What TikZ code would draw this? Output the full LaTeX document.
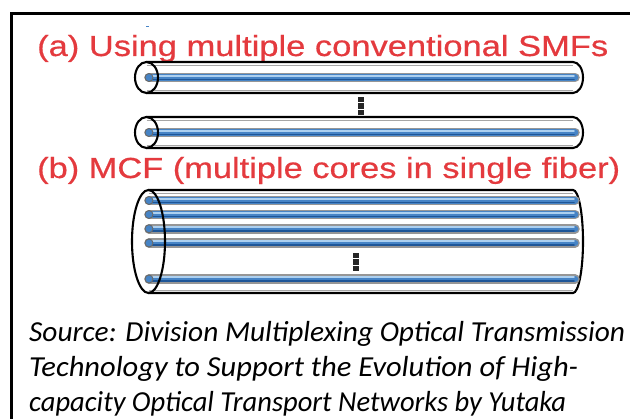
\documentclass[tikz,border=0pt]{standalone}
\usepackage{fontspec}
\setmainfont{Liberation Sans}
\newfontfamily\titlefont[FakeBold=0.5]{Liberation Sans}
\newfontfamily\srcfont{Carlito}
\usepackage{graphicx}

\definecolor{titlered}{RGB}{228,58,62}
\definecolor{coreblue}{RGB}{70,132,198}
\definecolor{corelight}{RGB}{172,208,240}
\definecolor{coredark}{RGB}{30,86,152}
\definecolor{coreedge}{RGB}{150,150,150}

\tikzset{
  tube/.style={draw=black, line width=2.1pt},
  tubeinner/.style={draw=black!35, line width=0.9pt},
  frameline/.style={draw=black, line width=2.5pt},
  titletext/.style={anchor=base west, inner sep=0pt, text=titlered},
  sourcetext/.style={anchor=base west, inner sep=0pt, text=black},
  gapdot/.style={fill=black!85}
}

% one light-guiding core: grey sheath, blue body with a highlight and a shadow,
% and a small round face at its left end
\newcommand\fibercore[3]{%
  \draw[coreedge, line width=9.5pt, line cap=round] (#1,#3) -- (#2,#3);
  \draw[coreblue, line width=6.5pt, line cap=round] (#1,#3) -- (#2,#3);
  \draw[corelight, line width=1.8pt, line cap=round] (#1,#3-1.7) -- (#2-1,#3-1.7);
  \draw[coredark, line width=1.7pt, line cap=round] (#1,#3+2.1) -- (#2-1,#3+2.1);
  \draw[coreedge!70!black, line width=0.9pt, fill=coreblue] (#1,#3) circle (4pt);
}

% three stacked squares marking omitted fibres / cores
\newcommand\gapmark[2]{%
  \fill[gapdot] (#1-3,#2) rectangle (#1+3,#2+5.2);
  \fill[gapdot] (#1-3,#2+6.4) rectangle (#1+3,#2+11.6);
  \fill[gapdot] (#1-3,#2+12.8) rectangle (#1+3,#2+18);
}

% one line of the citation, set to a given width
\newcommand\srcline[2]{\resizebox{#1}{\height}{\srcfont\itshape\fontsize{29}{29}\selectfont #2}}

\begin{document}
\begin{tikzpicture}[x=1pt, y=-1pt]
  \useasboundingbox (0,0) rectangle (630,419);
  \fill[white] (0,0) rectangle (630,419);

  % outer frame (runs off the right and bottom edges)
  \draw[frameline] (11.5,440) -- (11.5,13.5) -- (650,13.5);
  \draw[coreblue, line width=1pt] (146,27) -- (148.5,27);

  % (a) two separate single-core fibres
  \node[titletext] (titleA) at (37,56)
    {\resizebox{571pt}{\height}{\titlefont\fontsize{29}{29}\selectfont (a) Using multiple conventional SMFs}};

  \foreach \yc in {77.5,132.5} {
    \draw[tubeinner] (146.5,\yc-12.5) -- (573,\yc-12.5);
    \draw[tubeinner] (146.5,\yc+12.5) -- (573,\yc+12.5);
    \draw[tube] (146.5,\yc-15.5) -- (573,\yc-15.5)
      arc[start angle=90, end angle=-90, x radius=10pt, y radius=15.5pt]
      -- (146.5,\yc+15.5);
    \fibercore{149}{575}{\yc}
    \draw[tube] (146.5,\yc) ellipse [x radius=11.5pt, y radius=15.5pt];
  }
  \gapmark{361}{97}

  % (b) one multi-core fibre
  \node[titletext] (titleB) at (37,178)
    {\resizebox{583pt}{\height}{\titlefont\fontsize{29}{29}\selectfont (b) MCF (multiple cores in single fiber)}};

  \draw[tubeinner] (148.5,193) -- (573,193);
  \draw[tubeinner] (148.5,290) -- (573,290);
  \draw[tube] (148.5,190) -- (573,190)
    arc[start angle=90, end angle=-90, x radius=10pt, y radius=51.5pt]
    -- (148.5,293);
  \foreach \yc in {200.5,214.5,228.8,243,279} {
    \fibercore{149}{575}{\yc}
  }
  \draw[tube] (148.5,241.5) ellipse [x radius=16.5pt, y radius=51.5pt];
  \gapmark{356}{253}

  % citation
  \node[sourcetext] (src1) at (29,342)
    {\srcline{596pt}{Source: Division Multiplexing Optical Transmission}};
  \node[sourcetext] (src2) at (29,377)
    {\srcline{549pt}{Technology to Support the Evolution of High-}};
  \node[sourcetext] (src3) at (29,412)
    {\srcline{537pt}{capacity Optical Transport Networks by Yutaka}};
\end{tikzpicture}
\end{document}
